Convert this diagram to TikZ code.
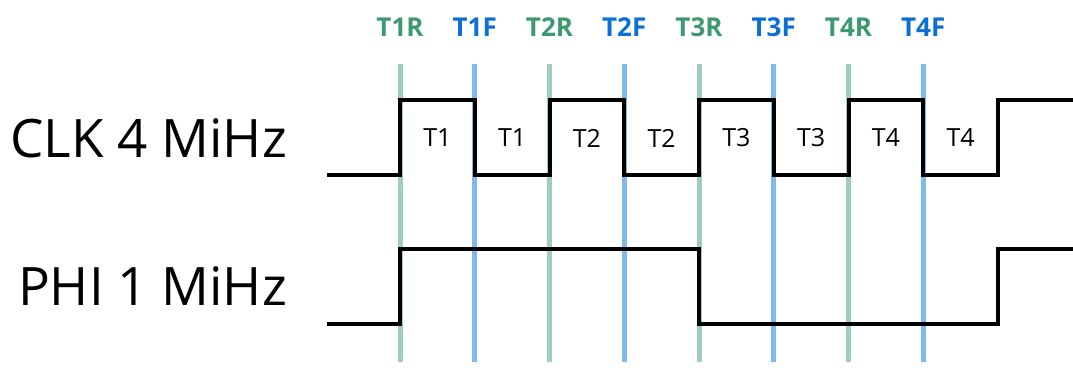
\documentclass[tikz,border=0pt]{standalone}
\usepackage{fontspec}
\setmainfont{Open Sans}
\definecolor{riseline}{HTML}{9FCFB6}
\definecolor{fallline}{HTML}{80B9EC}
\definecolor{risetext}{HTML}{3D9970}
\definecolor{falltext}{HTML}{0A6FD6}
\tikzset{
  edgeline/.style={line width=5pt},
  wave/.style={line width=4pt, line join=miter},
  edgelab/.style={anchor=base, inner sep=0pt, font=\fontsize{26}{30}\selectfont\bfseries},
  tlab/.style={inner sep=0pt, font=\fontsize{25}{30}\selectfont},
  siglab/.style={anchor=base east, inner sep=0pt, font=\fontsize{53}{60}\selectfont}
}
\begin{document}
\begin{tikzpicture}[x=1pt,y=-1pt]
\def\xzero{400} \def\tstep{74.75}
\def\yhi{100} \def\ylo{175}
\def\phihi{249} \def\philo{324}
\useasboundingbox (0,0) rectangle (1073,372);
% edge markers and labels
\foreach \n in {1,...,4}{
  \pgfmathsetmacro\xr{\xzero+(2*\n-2)*\tstep}
  \pgfmathsetmacro\xf{\xr+\tstep}
  \draw[edgeline,riseline] (\xr,64)--(\xr,362);
  \draw[edgeline,fallline] (\xf,64)--(\xf,362);
  \node[edgelab,text=risetext] (r\n) at (\xr,36) {T\n{}R};
  \node[edgelab,text=falltext] (f\n) at (\xf,36) {T\n{}F};
  \node[tlab] (th\n) at ({\xr+\tstep/2},138) {T\n};
  \node[tlab] (tl\n) at ({\xf+\tstep/2},138) {T\n};
}
% signal names
\node[siglab] (clk) at (287,157) {CLK 4 MiHz};
\node[siglab] (phi) at (287,305) {PHI 1 MiHz};
% clk
\draw[wave] (327,\ylo) \foreach \n in {0,...,3}{ -- ({\xzero+2*\n*\tstep},\ylo) -- ++(0,-75) -- ++(\tstep,0) -- ++(0,75) }
  -- ++(\tstep,0) -- ++(0,-75) -- (1073,\yhi);
% phi
\draw[wave] (327,\philo) -| (\xzero,\phihi) -| ({\xzero+4*\tstep},\philo) -| ({\xzero+8*\tstep},\phihi) -- (1073,\phihi);
\end{tikzpicture}
\end{document}
